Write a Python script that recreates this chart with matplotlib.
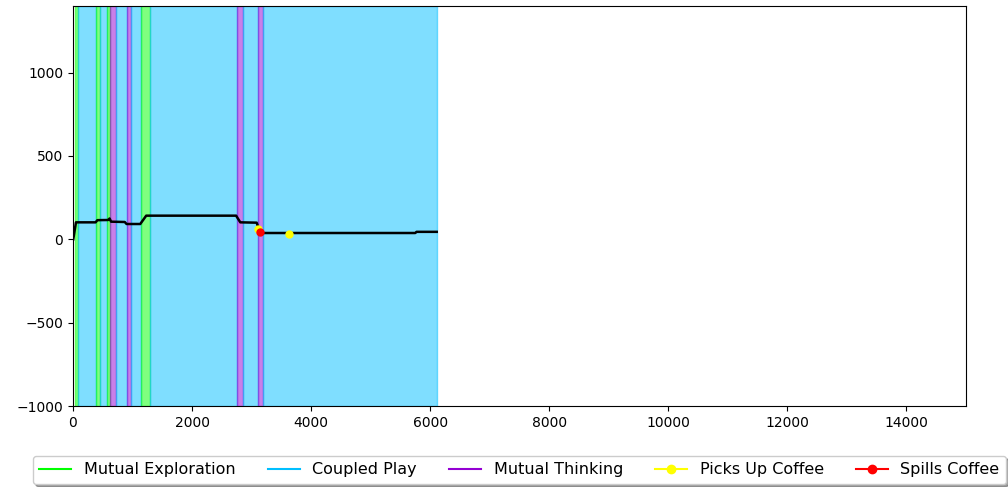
import matplotlib
matplotlib.use('Agg')
import matplotlib.pyplot as plt
from matplotlib.lines import Line2D

# interaction segments: (start, end, state)
seg_start = [30, 90, 390, 450, 570, 625, 715, 900, 975, 1150, 1290, 2750, 2860, 3100, 3200]
seg_end = [90, 390, 450, 570, 625, 715, 900, 975, 1150, 1290, 2750, 2860, 3100, 3200, 6110]
seg_state = ["Mutual Exploration", "Coupled Play", "Mutual Exploration", "Coupled Play",
             "Mutual Exploration", "Mutual Thinking", "Coupled Play", "Mutual Thinking",
             "Coupled Play", "Mutual Exploration", "Coupled Play", "Mutual Thinking",
             "Coupled Play", "Mutual Thinking", "Coupled Play"]

state_colors = {
    "Mutual Exploration": "lime",
    "Coupled Play": "deepskyblue",
    "Mutual Thinking": "darkviolet",
}

# tracked signal
sig_t = [5, 50, 380, 410, 590, 615, 640, 870, 900, 1130, 1230, 2740, 2810, 3085, 3150, 5750, 5770, 6110]
sig_v = [0, 102, 102, 115, 116, 125, 106, 104, 92, 92, 142, 142, 102, 100, 38, 38, 45, 45]

# events
pickup_t = [3113, 3629]
pickup_v = [62, 32]
spill_t = [3147]
spill_v = [44]

fig, ax = plt.subplots(figsize=(10.08, 4.87), dpi=100)
plt.subplots_adjust(left=0.0724, right=0.9583, top=0.9877, bottom=0.1663)

for s, e, st in zip(seg_start, seg_end, seg_state):
    ax.axvspan(s, e, color=state_colors[st], alpha=0.5)

ax.plot(sig_t, sig_v, color="black", linewidth=1.8)
ax.plot(pickup_t, pickup_v, "o", color="yellow", markersize=5, zorder=5)
ax.plot(spill_t, spill_v, "o", color="red", markersize=5, zorder=6)

ax.set_xlim(0, 15000)
ax.set_ylim(-1000, 1400)
ax.set_yticks([-1000, -500, 0, 500, 1000])

handles = [
    Line2D([0], [0], color="lime", label="Mutual Exploration"),
    Line2D([0], [0], color="deepskyblue", label="Coupled Play"),
    Line2D([0], [0], color="darkviolet", label="Mutual Thinking"),
    Line2D([0], [0], color="yellow", marker="o", label="Picks Up Coffee"),
    Line2D([0], [0], color="red", marker="o", label="Spills Coffee"),
]
ax.legend(handles=handles, loc="upper center", bbox_to_anchor=(0.5, -0.105),
          ncol=5, fancybox=True, shadow=True, fontsize=11.5)

plt.savefig("out.png", dpi=100)
